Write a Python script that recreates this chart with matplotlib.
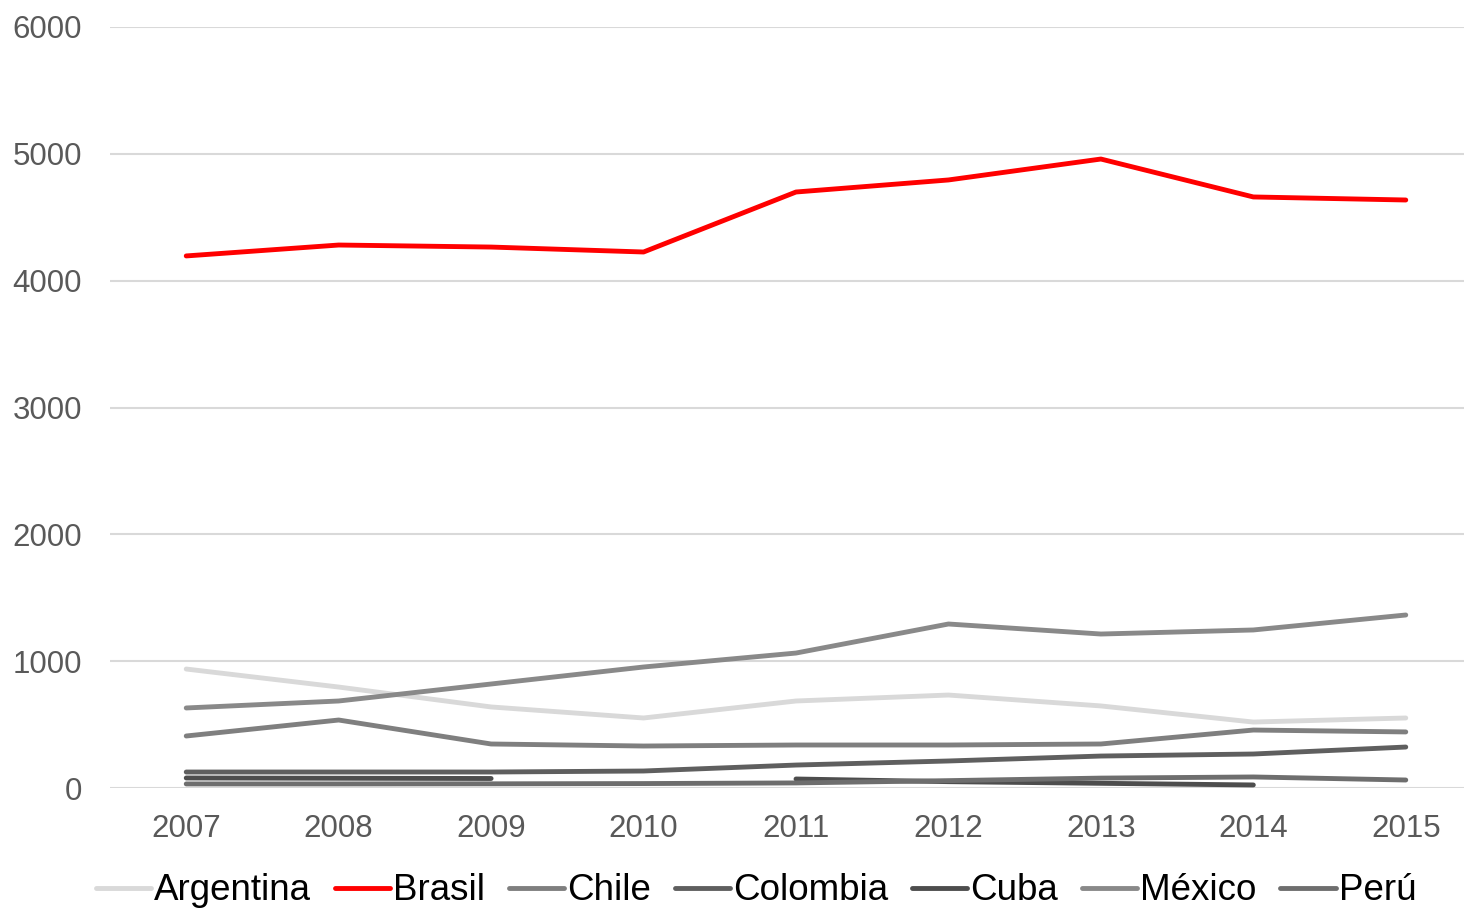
import numpy as np
import matplotlib
matplotlib.use("Agg")
import matplotlib.pyplot as plt

years = [2007, 2008, 2009, 2010, 2011, 2012, 2013, 2014, 2015]
argentina = [938, 796, 639, 552, 686, 733, 647, 520, 552]
brasil = [4195, 4281, 4265, 4226, 4699, 4794, 4959, 4660, 4636]
chile = [410, 536, 347, 331, 339, 339, 347, 457, 442]
colombia = [126, 126, 126, 134, 181, 213, 252, 268, 323]
cuba = [79, 77, 75, np.nan, 71, 50, 37, 24, np.nan]
mexico = [631, 686, 820, 954, 1064, 1293, 1214, 1246, 1364]
peru = [32, 32, 33, 35, 40, 58, 78, 87, 63]

series = [
    ("Argentina", argentina, "#d9d9d9"),
    ("Brasil", brasil, "#ff0000"),
    ("Chile", chile, "#7f7f7f"),
    ("Colombia", colombia, "#5f5f5f"),
    ("Cuba", cuba, "#4d4d4d"),
    ("México", mexico, "#898989"),
    ("Perú", peru, "#6e6e6e"),
]

plt.rcParams['font.family'] = ['Liberation Sans', 'DejaVu Sans']

W, H = 1464, 909
fig = plt.figure(figsize=(W / 100, H / 100), dpi=100)
left, right, top, bottom = 110, 1482, 27, 788
ax = fig.add_axes([left / W, (H - bottom) / H, (right - left) / W, (bottom - top) / H])

x = np.arange(len(years))
for name, vals, col in series:
    ax.plot(x, vals, color=col, lw=3.5, solid_capstyle='round', label=name)

ax.set_xlim(-0.5, len(years) - 0.5)
ax.set_ylim(0, 6000)
ax.set_yticks(range(0, 6001, 1000))
ax.set_xticks(x)
ax.set_xticklabels([str(y) for y in years])
ax.tick_params(axis='both', length=0, labelsize=22.5, colors='#595959')
ax.tick_params(axis='x', pad=19)
ax.tick_params(axis='y', pad=20)
ax.grid(axis='y', color='#d9d9d9', lw=1.5)
ax.set_axisbelow(True)
for s in ax.spines.values():
    s.set_visible(False)

fig.legend(loc='center', bbox_to_anchor=(756 / W, 1 - 891 / H), ncol=7,
           frameon=False, fontsize=26.5, handlelength=1.5, handletextpad=0.08,
           columnspacing=0.65, borderaxespad=0, borderpad=0)

fig.savefig("out.png", dpi=100)
